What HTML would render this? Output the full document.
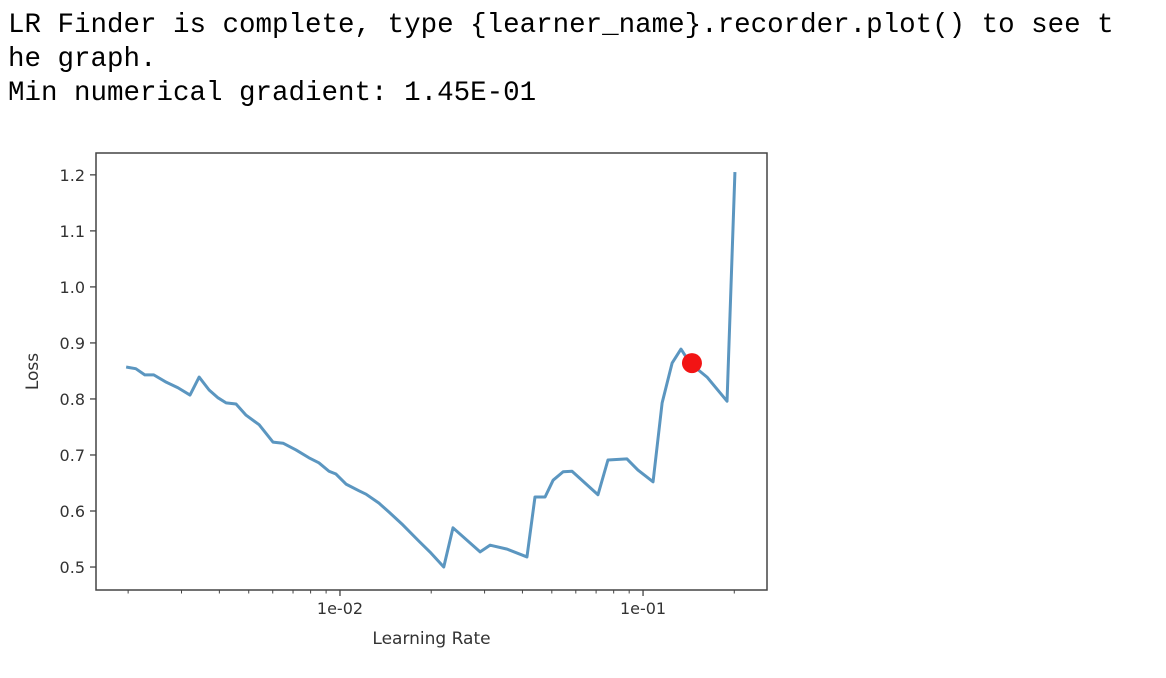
<!DOCTYPE html>
<html><head><meta charset="utf-8"><style>
body{margin:0;background:#fff;width:1166px;height:678px;overflow:hidden}
.out{position:absolute;left:8px;top:9px;font-family:"Liberation Mono",monospace;font-size:27.5px;line-height:34px;color:#000;white-space:pre}
svg{position:absolute;left:0;top:0}
</style></head><body>
<div class="out">LR Finder is complete, type {learner_name}.recorder.plot() to see t
he graph.
Min numerical gradient: 1.45E-01</div>
<svg id="chart" width="1166" height="678"></svg>
<script>
const lrs=[1.97e-3,2.12e-3,2.27e-3,2.43e-3,2.67e-3,2.92e-3,3.20e-3,3.43e-3,3.70e-3,3.96e-3,4.21e-3,4.54e-3,4.90e-3,5.41e-3,6.01e-3,6.49e-3,7.16e-3,7.90e-3,8.52e-3,9.20e-3,9.70e-3,1.047e-2,1.156e-2,1.219e-2,1.345e-2,1.452e-2,1.614e-2,1.823e-2,1.98e-2,2.20e-2,2.36e-2,2.90e-2,3.13e-2,3.56e-2,4.14e-2,4.40e-2,4.75e-2,5.05e-2,5.45e-2,5.83e-2,7.10e-2,7.66e-2,8.85e-2,9.62e-2,1.079e-1,1.156e-1,1.247e-1,1.334e-1,1.429e-1,1.626e-1,1.893e-1,2.01e-1];
const losses=[0.857,0.854,0.843,0.843,0.830,0.820,0.807,0.839,0.816,0.802,0.793,0.791,0.771,0.754,0.723,0.721,0.709,0.695,0.686,0.671,0.666,0.648,0.636,0.630,0.614,0.598,0.575,0.546,0.527,0.500,0.570,0.527,0.539,0.532,0.518,0.625,0.625,0.655,0.670,0.671,0.629,0.691,0.693,0.673,0.652,0.793,0.864,0.889,0.864,0.839,0.796,1.205];
const minGradLr=1.45e-1, minGradLoss=0.864;
const yTicks=[0.5,0.6,0.7,0.8,0.9,1.0,1.1,1.2];
const yTickLabels=["0.5","0.6","0.7","0.8","0.9","1.0","1.1","1.2"];
const xTicks=[1e-2,1e-1];
const xTickLabels=["1e-02","1e-01"];

const L=96,R=767,T=153,B=590;
const xMin=-2.805,xMax=-0.591,yMin=0.459,yMax=1.239;
const X=v=>L+(Math.log10(v)-xMin)/(xMax-xMin)*(R-L);
const Y=v=>B-(v-yMin)/(yMax-yMin)*(B-T);
const svg=document.getElementById('chart');
const NS='http://www.w3.org/2000/svg';
function mk(tag,attrs,parent){const e=document.createElementNS(NS,tag);for(const k in attrs)e.setAttribute(k,attrs[k]);(parent||svg).appendChild(e);return e;}
const font='"DejaVu Sans","Liberation Sans",sans-serif';

const line=mk('polyline',{points:lrs.map((v,i)=>X(v)+','+Y(losses[i])).join(' '),fill:'none',stroke:'#5b96c0','stroke-width':3,'stroke-linejoin':'round'});


const dot=mk('circle',{cx:X(minGradLr),cy:Y(minGradLoss),r:10,fill:'#f21414'});



const frame=mk('rect',{x:L,y:T,width:R-L,height:B-T,fill:'none',stroke:'#444','stroke-width':1.5});



yTicks.forEach((v,i)=>{
  const tk=mk('line',{x1:L-6,x2:L,y1:Y(v),y2:Y(v),stroke:'#444','stroke-width':1.3});
  
  
  const t=mk('text',{x:L-11,y:Y(v)+6,'text-anchor':'end','font-size':16,'font-family':font,fill:'#333'});
  t.textContent=yTickLabels[i];
  
  
});
xTicks.forEach((v,i)=>{
  const tk=mk('line',{x1:X(v),x2:X(v),y1:B,y2:B+6,stroke:'#444','stroke-width':1.3});
  
  
  const t=mk('text',{x:X(v),y:B+24,'text-anchor':'middle','font-size':16,'font-family':font,fill:'#333'});
  t.textContent=xTickLabels[i];
  
  
});
[1e-3,1e-2,1e-1].forEach(d=>{for(let m=2;m<=9;m++){const v=d*m;const px=X(v);if(px>L&&px<R){
  const tk=mk('line',{x1:px,x2:px,y1:B,y2:B+3.5,stroke:'#444','stroke-width':1});
  
  }}});

const xl=mk('text',{x:(L+R)/2,y:644,'text-anchor':'middle','font-size':17,'font-family':font,fill:'#333'});
xl.textContent='Learning Rate';


const yl=mk('text',{x:0,y:0,'text-anchor':'middle','font-size':17,'font-family':font,fill:'#333',transform:'translate(38,'+((T+B)/2)+') rotate(-90)'});
yl.textContent='Loss';


</script>
</body></html>
